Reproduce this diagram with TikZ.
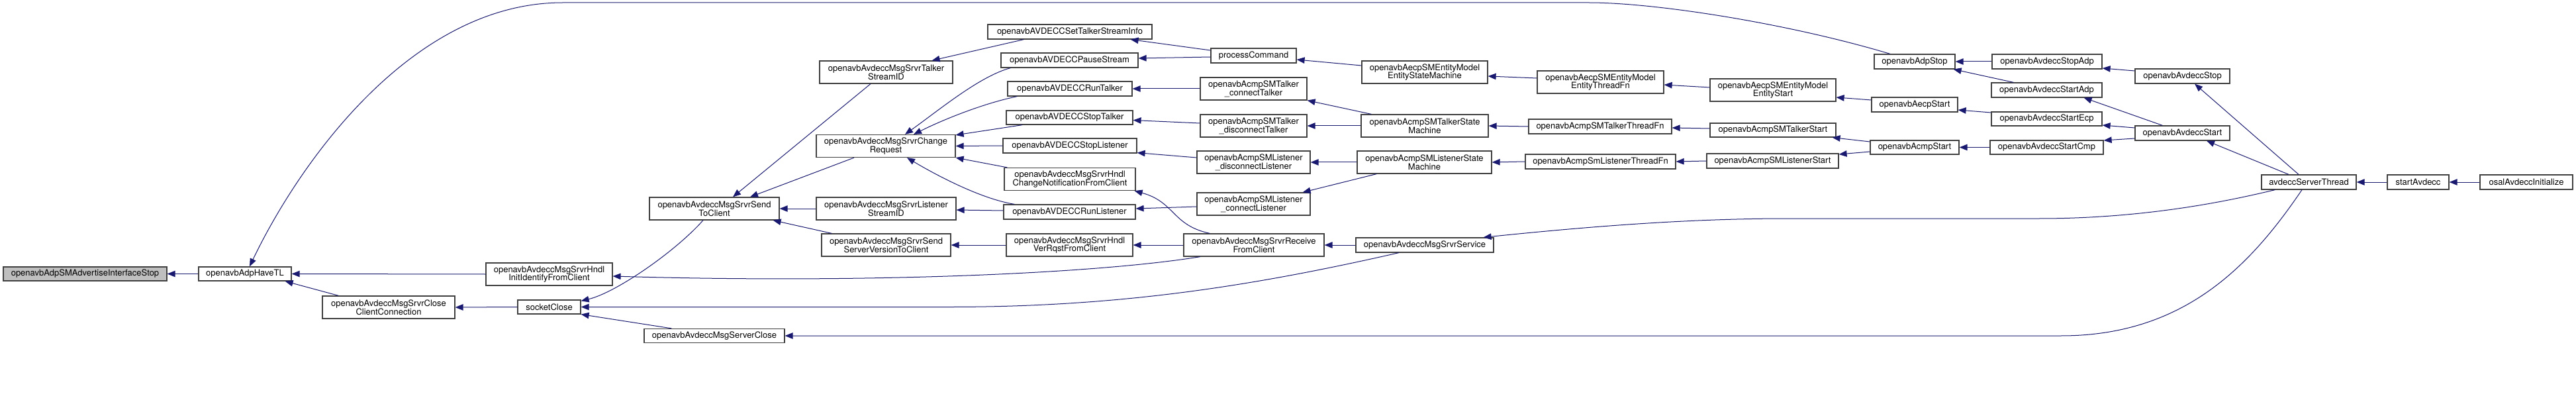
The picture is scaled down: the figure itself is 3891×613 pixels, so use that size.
\documentclass[tikz,border=0pt]{standalone}
\usepackage{fontspec}
\setmainfont{TeX Gyre Heros}
\usetikzlibrary{arrows.meta}
\definecolor{edgecol}{HTML}{191970}
\definecolor{boxcol}{HTML}{404040}
\definecolor{rootfill}{HTML}{BFBFBF}
\tikzset{
  fn/.style={draw=boxcol, line width=1.2bp, fill=white, inner sep=0pt, align=center,
    font=\fontsize{13bp}{12.7bp}\selectfont},
  edge/.style={draw=edgecol, line width=1bp, arrows={Triangle[length=12bp,width=9.5bp]-}},
}
\newcommand\gnd[7][]{\node[fn, minimum width=#5bp, minimum height=#6bp, #1] (#2) at (#3,#4) {#7};}
\begin{document}
\begin{tikzpicture}[x=1bp,y=-1bp]
\useasboundingbox (0,0) rectangle (3891,613);
% nodes
\gnd[fill=rootfill]{advStop}{128.5}{413.5}{247}{21}{openavbAdpSMAdvertiseInterfaceStop}
\gnd{haveTL}{370}{413.5}{140}{21}{openavbAdpHaveTL}
\gnd{HndlInit}{829.5}{414}{191}{34}{openavbAvdeccMsgSrvrHndl\\InitIdentifyFromClient}
\gnd{closeClient}{587}{464}{200}{34}{openavbAvdeccMsgSrvrClose\\ClientConnection}
\gnd{socketClose}{829.5}{463.5}{95}{21}{socketClose}
\gnd{TalkerStreamID}{1338.5}{109}{201}{34}{openavbAvdeccMsgSrvrTalker\\StreamID}
\gnd{ChangeRequest}{1338}{220.5}{210}{34}{openavbAvdeccMsgSrvrChange\\Request}
\gnd{SendToClient}{1079}{315}{196}{34}{openavbAvdeccMsgSrvrSend\\ToClient}
\gnd{ListenerStreamID}{1338.5}{315}{211}{34}{openavbAvdeccMsgSrvrListener\\StreamID}
\gnd{SendServerVersion}{1338.5}{370}{195}{34}{openavbAvdeccMsgSrvrSend\\ServerVersionToClient}
\gnd{ServerClose}{1079}{507}{212}{21}{openavbAvdeccMsgServerClose}
\gnd{SetTalkerStreamInfo}{1616}{48}{248}{22}{openavbAVDECCSetTalkerStreamInfo}
\gnd{PauseStream}{1615.5}{91}{207}{22}{openavbAVDECCPauseStream}
\gnd{RunTalker}{1616}{134}{188}{22}{openavbAVDECCRunTalker}
\gnd{StopTalker}{1615.5}{177.5}{191}{21}{openavbAVDECCStopTalker}
\gnd{StopListener}{1616}{220}{202}{22}{openavbAVDECCStopListener}
\gnd{HndlChangeNotif}{1616}{270.5}{198}{34}{openavbAvdeccMsgSrvrHndl\\ChangeNotificationFromClient}
\gnd{RunListener}{1615.5}{320}{199}{22}{openavbAVDECCRunListener}
\gnd{HndlVerRqst}{1615.5}{370}{191}{34}{openavbAvdeccMsgSrvrHndl\\VerRqstFromClient}
\gnd{processCommand}{1893.5}{84}{129}{22}{processCommand}
\gnd{TalkerConnect}{1893.5}{134}{161}{34}{openavbAcmpSMTalker\\\_connectTalker}
\gnd{TalkerDisconnect}{1893.5}{190}{161}{34}{openavbAcmpSMTalker\\\_disconnectTalker}
\gnd{ListenerDisconnect}{1893.5}{245}{171}{34}{openavbAcmpSMListener\\\_disconnectListener}
\gnd{ListenerConnect}{1893.5}{308}{171}{34}{openavbAcmpSMListener\\\_connectListener}
\gnd{ReceiveFromClient}{1894}{370}{212}{34}{openavbAvdeccMsgSrvrReceive\\FromClient}
\gnd{EntitySM}{2152}{109}{190}{34}{openavbAecpSMEntityModel\\EntityStateMachine}
\gnd{TalkerSM}{2152}{190}{192}{34}{openavbAcmpSMTalkerState\\Machine}
\gnd{ListenerSM}{2151.5}{245}{203}{34}{openavbAcmpSMListenerState\\Machine}
\gnd{MsgSrvrService}{2152}{370}{208}{22}{openavbAvdeccMsgSrvrService}
\gnd{EntityThreadFn}{2417.5}{124}{191}{34}{openavbAecpSMEntityModel\\EntityThreadFn}
\gnd{TalkerThreadFn}{2417}{191}{216}{22}{openavbAcmpSMTalkerThreadFn}
\gnd{ListenerThreadFn}{2417.5}{244}{227}{22}{openavbAcmpSmListenerThreadFn}
\gnd{EntityStart}{2678}{136}{190}{34}{openavbAecpSMEntityModel\\EntityStart}
\gnd{TalkerStart}{2678}{196.5}{190}{21}{openavbAcmpSMTalkerStart}
\gnd{ListenerStart}{2677.5}{243}{199}{22}{openavbAcmpSMListenerStart}
\gnd{AdpStop}{2892}{93}{122}{22}{openavbAdpStop}
\gnd{AecpStart}{2892}{158}{130}{22}{openavbAecpStart}
\gnd{AcmpStart}{2892}{222.5}{134}{21}{openavbAcmpStart}
\gnd{StopAdp}{3092}{93}{166}{22}{openavbAvdeccStopAdp}
\gnd{StartAdp}{3091.5}{136}{167}{22}{openavbAvdeccStartAdp}
\gnd{StartEcp}{3091.5}{179.5}{167}{21}{openavbAvdeccStartEcp}
\gnd{StartCmp}{3091.5}{222.5}{171}{21}{openavbAvdeccStartCmp}
\gnd{AvdeccStop}{3296.5}{115}{143}{22}{openavbAvdeccStop}
\gnd{AvdeccStart}{3296.5}{201}{143}{22}{openavbAvdeccStart}
\gnd{ServerThread}{3487.5}{275}{143}{22}{avdeccServerThread}
\gnd{startAvdecc}{3652.5}{275}{93}{22}{startAvdecc}
\gnd{osal}{3816}{275}{140}{22}{osalAvdeccInitialize}
% edges (arrow at callee)
\draw[edge] (advStop.east) -- (haveTL.west);
\draw[edge] ([xshift=7bp]haveTL.north) .. controls (450,250) and (620,4) .. (850,4)
  -- (2400,4) .. controls (2500,4) and (2700,35) .. ([xshift=-37bp]AdpStop.north);
\draw[edge] (haveTL.east) -- (HndlInit.west);
\draw[edge] ([xshift=-10bp]haveTL.south east) -- ([xshift=25bp]closeClient.north west);
\draw[edge] (closeClient.east) -- (socketClose.west);
\draw[edge] ([yshift=-2bp]socketClose.north east) .. controls (930,442) and (1020,380) .. ([xshift=-17bp]SendToClient.south);
\draw[edge] (socketClose.east) -- (1440,463.5) .. controls (1700,463) and (1900,430) .. ([xshift=-39bp]MsgSrvrService.south);
\draw[edge] (socketClose.south east) -- ([xshift=42bp]ServerClose.north west);
\draw[edge] ([xshift=28bp]SendToClient.north) -- ([xshift=-23.5bp]TalkerStreamID.south);
\draw[edge] ([xshift=54bp]SendToClient.north) -- ([xshift=-48bp]ChangeRequest.south);
\draw[edge] (SendToClient.east) -- (ListenerStreamID.west);
\draw[edge] ([xshift=-10bp]SendToClient.south east) -- ([xshift=16bp]SendServerVersion.north west);
\draw[edge] ([xshift=-32bp]TalkerStreamID.north east) -- ([xshift=55bp]SetTalkerStreamInfo.south west);
\draw[edge] ([xshift=29bp]ChangeRequest.north) .. controls (1420,165) and (1480,115) .. ([xshift=15bp]PauseStream.south west);
\draw[edge] ([xshift=42bp]ChangeRequest.north) .. controls (1430,178) and (1490,155) .. ([xshift=15bp]RunTalker.south west);
\draw[edge] ([yshift=-1bp]ChangeRequest.north east) -- ([xshift=25bp]StopTalker.south west);
\draw[edge] (ChangeRequest.east) -- (StopListener.west);
\draw[edge] (ChangeRequest.south east) -- ([xshift=5bp]HndlChangeNotif.north west);
\draw[edge] ([xshift=32bp]ChangeRequest.south) .. controls (1410,262) and (1480,300) .. ([xshift=17bp]RunListener.north west);
\draw[edge] ([yshift=-2bp]ListenerStreamID.east) -- ([yshift=2bp]RunListener.west);
\draw[edge] (SendServerVersion.east) -- (HndlVerRqst.west);
\draw[edge] ([xshift=-33bp]SetTalkerStreamInfo.south east) -- ([yshift=8bp]processCommand.west);
\draw[edge] ([yshift=3bp]PauseStream.east) -- ([yshift=-2bp]processCommand.west);
\draw[edge] (RunTalker.east) -- (TalkerConnect.west);
\draw[edge] ([yshift=-4bp]StopTalker.east) -- ([yshift=4bp]TalkerDisconnect.west);
\draw[edge] ([yshift=1bp]StopListener.south east) -- ([yshift=7bp]ListenerDisconnect.west);
\draw[edge] ([yshift=5bp]RunListener.east) -- ([yshift=-4bp]ListenerConnect.west);
\draw[edge] ([xshift=-2bp]HndlChangeNotif.south east) .. controls (1775,305) and (1770,340) .. ([xshift=40bp]ReceiveFromClient.north west);
\draw[edge] (HndlVerRqst.east) -- (ReceiveFromClient.west);
\draw[edge] ([yshift=-3bp]HndlInit.east) .. controls (1300,428) and (1650,414) .. ([xshift=-81bp]ReceiveFromClient.south);
\draw[edge] ([yshift=-6bp]processCommand.east) -- ([yshift=10bp]EntitySM.west);
\draw[edge] (TalkerConnect.south east) -- ([xshift=16bp]TalkerSM.north west);
\draw[edge] (TalkerDisconnect.east) -- (TalkerSM.west);
\draw[edge] (ListenerDisconnect.east) -- (ListenerSM.west);
\draw[edge] ([xshift=-12bp]ListenerConnect.north east) -- ([xshift=30bp]ListenerSM.south west);
\draw[edge] (ReceiveFromClient.east) -- (MsgSrvrService.west);
\draw[edge] ([yshift=-6bp]EntitySM.east) -- ([yshift=6bp]EntityThreadFn.west);
\draw[edge] (TalkerSM.east) -- (TalkerThreadFn.west);
\draw[edge] (ListenerSM.east) -- (ListenerThreadFn.west);
\draw[edge] ([xshift=-16bp]MsgSrvrService.north east) .. controls (2400,342) and (2550,330) .. (2700,330)
  -- (3080,330) .. controls (3250,330) and (3380,300) .. ([xshift=21bp]ServerThread.south west);
\draw[edge] ([yshift=-4bp]EntityThreadFn.east) -- ([yshift=4bp]EntityStart.west);
\draw[edge] ([yshift=-2bp]TalkerThreadFn.east) -- ([yshift=2.5bp]TalkerStart.west);
\draw[edge] (ListenerThreadFn.east) -- (ListenerStart.west);
\draw[edge] ([yshift=-11bp]EntityStart.east) -- ([yshift=7bp]AecpStart.west);
\draw[edge] ([xshift=-6bp]TalkerStart.south east) -- ([yshift=8.5bp]AcmpStart.west);
\draw[edge] ([yshift=10bp]ListenerStart.east) -- ([yshift=-6.5bp]AcmpStart.west);
\draw[edge] (AdpStop.east) -- (StopAdp.west);
\draw[edge] ([xshift=-3bp]AdpStop.south east) -- ([xshift=34bp]StartAdp.north west);
\draw[edge] ([yshift=-8bp]AecpStart.east) -- ([yshift=9.5bp]StartEcp.west);
\draw[edge] (AcmpStart.east) -- (StartCmp.west);
\draw[edge] ([yshift=-10bp]StopAdp.east) -- ([yshift=8bp]AvdeccStop.west);
\draw[edge] ([xshift=-28bp]StartAdp.south east) -- ([xshift=42bp]AvdeccStart.north west);
\draw[edge] ([yshift=-9.5bp]StartEcp.east) -- ([yshift=8bp]AvdeccStart.west);
\draw[edge] ([yshift=10.5bp]StartCmp.east) -- ([yshift=-8bp]AvdeccStart.west);
\draw[edge] ([xshift=18.5bp]AvdeccStop.south) -- ([xshift=-15.5bp]ServerThread.north);
\draw[edge] ([xshift=36.5bp]AvdeccStart.south) -- ([xshift=-30.5bp]ServerThread.north);
\draw[edge] (ServerClose.east) -- (3113,507) .. controls (3300,507) and (3400,400) .. ([xshift=-10.5bp]ServerThread.south);
\draw[edge] (ServerThread.east) -- (startAvdecc.west);
\draw[edge] (startAvdecc.east) -- (osal.west);
\end{tikzpicture}
\end{document}
